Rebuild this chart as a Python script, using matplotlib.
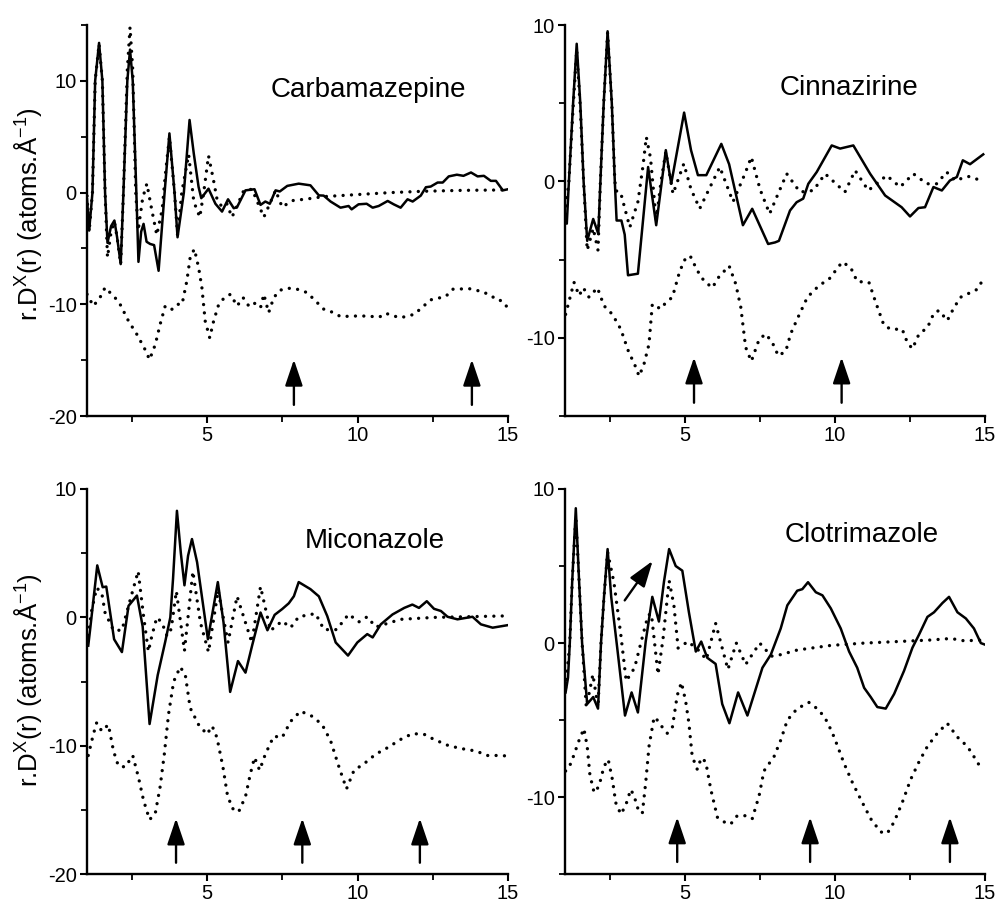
#!/usr/bin/env python3
import matplotlib
matplotlib.use("Agg")
import matplotlib.pyplot as plt
from matplotlib.ticker import MultipleLocator

plt.rcParams['font.family'] = ['Liberation Sans', 'DejaVu Sans']
plt.rcParams['mathtext.fontset'] = 'custom'
plt.rcParams['mathtext.rm'] = 'Liberation Sans'
plt.rcParams['axes.unicode_minus'] = False

# ---- Carbamazepine ----
carbTotR = [1.0, 1.07, 1.18, 1.27, 1.4, 1.51, 1.6, 1.68, 1.8, 1.91, 2.0, 2.12, 2.21, 2.34, 2.43, 2.52, 2.64, 2.71,
            2.8, 2.88, 2.98, 3.1, 3.23, 3.38, 3.58, 3.74, 3.91, 4.01, 4.22, 4.41, 4.55, 4.71, 4.8, 5.04, 5.27, 5.49,
            5.69, 5.88, 5.99, 6.27, 6.57, 6.77, 6.93, 7.08, 7.27, 7.41, 7.66, 8.04, 8.43, 8.71, 8.87, 9.1, 9.43,
            9.7, 9.8, 10.03, 10.3, 10.5, 10.7, 11.0, 11.2, 11.43, 11.66, 11.83, 12.1, 12.27, 12.43, 12.66, 12.83,
            13.03, 13.3, 13.52, 13.77, 13.99, 14.2, 14.43, 14.6, 14.83, 15.0]
carbTot = [-0.6, -3.4, 0.0, 10.0, 13.4, 10.0, 0.0, -4.5, -3.0, -2.5, -4.0, -6.4, 0.0, 10.0, 12.8, 10.0, 0.0, -6.2,
           -3.5, -2.8, -4.4, -4.6, -4.7, -7.0, 0.0, 5.3, 0.0, -4.0, 0.0, 6.5, 3.5, 0.5, -0.5, 0.35, -1.0, -1.7,
           -0.6, -1.4, -1.3, 0.2, 0.3, -1.1, -0.8, -1.0, 0.2, 0.1, 0.6, 0.8, 0.65, -0.25, -0.27, -0.8, -1.35,
           -1.2, -1.5, -1.05, -1.0, -1.35, -1.2, -0.75, -1.05, -1.35, -0.6, -0.8, -0.27, 0.48, 0.54, 0.9, 0.9,
           1.45, 1.6, 1.5, 1.8, 1.45, 1.5, 1.05, 1.05, 0.2, 0.3]
carbIntraR = [1.0, 1.07, 1.18, 1.27, 1.4, 1.51, 1.6, 1.68, 1.8, 1.91, 2.0, 2.12, 2.21, 2.34, 2.43, 2.52, 2.62, 2.7,
              2.85, 2.99, 3.15, 3.32, 3.5, 3.6, 3.74, 3.91, 4.01, 4.15, 4.38, 4.55, 4.75, 4.88, 5.04, 5.2, 5.33,
              5.5, 5.65, 5.82, 5.99, 6.21, 6.49, 6.88, 7.1, 7.27, 7.49, 7.82, 8.32, 8.87, 9.97, 11.1, 12.2, 13.5, 15.0]
carbIntra = [-0.3, -3.5, 0.0, 10.0, 13.3, 10.0, 0.0, -5.8, -3.5, -2.6, -4.0, -6.4, 0.0, 11.0, 14.8, 11.0, 0.0, -3.4,
             -0.5, 0.8, -1.5, -3.8, -1.5, 1.5, 5.0, 0.0, -3.8, 0.0, 3.4, -0.8, -2.2, 0.0, 3.3, 1.2, -0.7,
             -1.3, -1.0, -2.2, -1.2, 0.18, 0.3, -2.2, -0.87, 0.2, -1.3, -0.72, -0.57, -0.36, -0.18, 0.0, 0.12, 0.2, 0.24]
carbInterR = [1.0, 1.21, 1.43, 1.6, 1.71, 1.93, 2.1, 2.38, 2.66, 2.93, 3.08, 3.27, 3.43, 3.6, 3.82, 3.99, 4.16,
              4.32, 4.43, 4.57, 4.71, 4.82, 4.93, 5.08, 5.21, 5.38, 5.57, 5.77, 5.99, 6.19, 6.38, 6.54, 6.77, 6.88,
              7.04, 7.21, 7.41, 7.66, 7.99, 8.32, 8.6, 8.88, 9.21, 9.43, 9.88, 10.32, 10.72, 10.93, 11.21, 11.43,
              11.88, 12.05, 12.43, 12.93, 13.16, 13.71, 14.2, 14.43, 14.7, 14.88, 15.0]
carbInter = [-9.1, -10.15, -9.4, -8.5, -8.8, -9.4, -10.0, -11.5, -12.7, -14.05, -14.95, -13.6, -11.8, -10.15,
             -10.45, -10.0, -10.0, -7.9, -5.8, -5.05, -6.7, -8.5, -11.5, -13.0, -11.5, -10.0, -9.4, -9.1, -10.15,
             -9.4, -10.15, -9.85, -10.3, -9.1, -10.75, -9.4, -8.75, -8.55, -8.65, -8.95, -9.7, -10.45, -10.75,
             -11.1, -11.05, -11.05, -11.15, -10.8, -11.05, -11.2, -10.9, -10.5, -9.6, -9.3, -8.65, -8.6, -8.9,
             -9.3, -9.5, -10.1, -10.2]
carbArrows = [7.88, 13.8]

# ---- Cinnazirine ----
cinnTotR = [1.0, 1.06, 1.13, 1.27, 1.39, 1.51, 1.62, 1.74, 1.94, 2.11, 2.18, 2.29, 2.42, 2.56, 2.66, 2.72, 2.88,
            2.99, 3.1, 3.43, 3.6, 3.77, 4.04, 4.36, 4.54, 4.97, 5.2, 5.43, 5.71, 6.21, 6.47, 6.93, 7.24, 7.77, 8.0,
            8.13, 8.5, 8.72, 8.94, 9.11, 9.39, 9.89, 10.17, 10.61, 11.17, 11.67, 12.22, 12.5, 12.78, 13.0, 13.28,
            13.56, 13.83, 14.06, 14.26, 14.5, 14.94]
cinnTot = [-2.1, -2.7, 0.0, 5.0, 8.8, 5.0, 0.0, -3.8, -2.4, -3.35, 0.0, 5.0, 9.6, 5.0, 0.0, -2.5, -2.5,
           -3.4, -6.0, -5.9, -2.5, 0.92, -2.8, 2.0, -0.15, 4.4, 2.0, 0.4, 0.4, 2.4, 1.1, -2.8, -1.75, -4.0, -3.9,
           -3.8, -1.86, -1.33, -1.1, -0.15, 0.6, 2.3, 2.1, 2.3, 0.49, -0.9, -1.65, -2.24, -1.7, -1.65, -0.36,
           -0.58, 0.06, 0.28, 1.35, 1.1, 1.73]
cinnIntraR = [1.0, 1.13, 1.27, 1.39, 1.51, 1.62, 1.74, 1.94, 2.1, 2.18, 2.29, 2.42, 2.56, 2.66, 2.74, 2.88, 3.16,
              3.43, 3.6, 3.71, 3.85, 4.04, 4.2, 4.36, 4.6, 4.96, 5.2, 5.49, 5.8, 6.16, 6.6, 7.0, 7.21, 7.5, 7.82,
              8.1, 8.39, 8.83, 9.28, 9.67, 10.33, 10.67, 11.11, 11.72, 12.17, 12.61, 13.06, 13.39, 13.72, 14.0,
              14.44, 14.94]
cinnIntra = [-2.1, 0.0, 4.7, 8.4, 4.7, 0.0, -4.4, -3.0, -4.4, 0.0, 5.0, 9.5, 5.0, 0.0, -0.8, -0.9, -2.93,
             -1.3, 1.0, 2.84, 1.5, -2.5, 0.0, 1.9, -0.8, 1.13, -0.5, -1.74, -0.5, 0.92, -1.3, 0.5, 1.56, -0.5, -2.07,
             -0.8, 0.49, -0.68, -0.58, 0.49, -0.68, 0.7, -0.58, 0.38, -0.36, 0.49, -0.15, -0.15, 0.6, 0.06,
             0.32, 0.02]
cinnInterR = [1.02, 1.13, 1.3, 1.47, 1.61, 1.8, 2.08, 2.3, 2.58, 2.86, 3.13, 3.3, 3.47, 3.63, 3.8, 3.91, 4.19,
              4.36, 4.58, 4.8, 4.97, 5.17, 5.41, 5.63, 5.91, 6.13, 6.47, 6.69, 6.86, 7.02, 7.21, 7.47, 7.69, 7.91,
              8.11, 8.36, 8.52, 8.74, 9.08, 9.47, 9.8, 10.24, 10.52, 10.74, 11.13, 11.36, 11.63, 11.86, 12.24,
              12.41, 12.58, 12.8, 13.08, 13.3, 13.47, 13.74, 13.97, 14.19, 14.41, 14.74, 14.91]
cinnInter = [-8.5, -7.7, -6.45, -7.3, -6.8, -7.4, -6.8, -7.95, -8.5, -9.45, -10.95, -11.6, -12.45, -11.7, -10.4,
             -7.85, -8.15, -7.75, -7.4, -5.9, -5.05, -4.75, -5.7, -6.35, -6.8, -6.1, -5.4, -6.55, -8.05, -10.6,
             -11.5, -10.1, -9.75, -10.3, -11.15, -10.85, -9.75, -8.8, -7.4, -6.65, -6.25, -5.15, -5.5, -6.4,
             -6.45, -7.75, -9.2, -9.45, -9.45, -10.3, -10.7, -9.75, -9.35, -8.4, -8.25, -8.9, -8.05, -7.4, -7.2,
             -6.9, -6.35]
cinnArrows = [5.3, 10.22]

# ---- Miconazole ----
micoTotR = [1.04, 1.1, 1.34, 1.52, 1.64, 1.9, 2.16, 2.38, 2.66, 2.85, 3.08, 3.35, 3.6, 3.77, 3.86, 3.99, 4.12,
            4.24, 4.36, 4.49, 4.66, 5.02, 5.35, 5.54, 5.76, 6.02, 6.27, 6.49, 6.77, 7.0, 7.24, 7.49, 7.71, 7.88,
            8.04, 8.43, 8.71, 8.99, 9.27, 9.68, 9.99, 10.32, 10.5, 10.77, 11.16, 11.55, 11.82, 12.04, 12.3,
            12.54, 12.77, 12.99, 13.32, 13.82, 14.1, 14.49, 15.0]
micoTot = [-2.2, -1.0, 4.05, 2.35, 2.4, -1.7, -2.7, 0.9, 1.7, -0.7, -8.3, -4.5, -1.9, 0.0, 3.0, 8.3, 5.0,
           2.5, 4.8, 6.1, 4.3, -1.7, 2.75, -0.4, -5.8, -3.4, -4.3, -2.2, 0.38, -1.0, 0.2, 0.65, 1.1, 1.65,
           2.75, 2.2, 1.64, 0.1, -1.95, -2.97, -1.95, -1.3, -1.56, -0.54, 0.23, 0.74, 1.0, 0.74, 1.26,
           0.67, 0.5, 0.05, -0.15, 0.05, -0.54, -0.8, -0.6]
micoIntraR = [1.04, 1.15, 1.32, 1.49, 1.6, 1.88, 2.16, 2.38, 2.7, 2.88, 3.04, 3.16, 3.32, 3.49, 3.66, 3.8, 3.97,
              4.24, 4.52, 4.77, 5.04, 5.36, 5.69, 5.99, 6.48, 6.77, 7.1, 7.49, 7.77, 8.04, 8.6, 8.88, 9.3, 9.7,
              10.04, 10.32, 10.6, 11.43, 12.54, 15.0]
micoIntra = [-1.4, 0.5, 2.3, 1.9, 0.36, -1.0, -1.0, 0.9, 3.6, 0.1, -2.65, -1.4, 0.0, -0.4, -1.45, -0.9, 2.05,
             -2.6, 3.58, -0.4, -2.7, 2.1, -1.95, 1.65, -1.95, 2.4, -1.03, -0.28, -0.8, 0.05, 0.3, -0.95, -0.95, 0.25,
             -0.35, 0.05, -0.75, -0.15, 0.0, 0.12]
micoInterR = [1.04, 1.21, 1.32, 1.49, 1.71, 1.88, 2.04, 2.27, 2.52, 2.71, 2.88, 3.08, 3.27, 3.43, 3.57, 3.71,
              3.88, 4.1, 4.27, 4.43, 4.71, 4.99, 5.16, 5.32, 5.52, 5.66, 5.82, 6.04, 6.27, 6.43, 6.57, 6.74, 6.93,
              7.21, 7.49, 7.77, 8.1, 8.49, 8.82, 9.1, 9.38, 9.63, 9.88, 10.21, 10.6, 10.99, 11.43, 11.82, 12.21,
              12.54, 13.04, 13.54, 13.93, 14.32, 14.77, 15.0]
micoInter = [-10.75, -9.1, -8.2, -8.85, -8.35, -10.4, -11.55, -11.65, -10.75, -12.45, -14.25, -15.75, -15.25,
             -13.2, -10.65, -7.55, -5.0, -3.85, -4.5, -7.05, -8.35, -9.1, -8.45, -9.35, -11.65, -13.7, -14.85,
             -15.15, -13.95, -12.2, -10.9, -11.9, -10.65, -9.25, -9.35, -8.1, -7.3, -7.7, -8.35, -9.6, -11.65,
             -13.35, -11.9, -11.4, -10.65, -10.15, -9.5, -9.05, -9.1, -9.5, -10.0, -10.25, -10.4, -10.75,
             -10.75, -10.8]
micoArrows = [3.96, 8.16, 12.07]

# ---- Clotrimazole ----
clotTotR = [1.02, 1.1, 1.16, 1.24, 1.36, 1.47, 1.57, 1.74, 1.94, 2.1, 2.2, 2.3, 2.42, 2.54, 2.74, 3.0, 3.22,
            3.43, 3.69, 3.91, 4.13, 4.3, 4.47, 4.69, 4.91, 5.13, 5.36, 5.54, 5.74, 6.02, 6.24, 6.48, 6.77, 7.08,
            7.58, 7.86, 8.19, 8.41, 8.74, 8.91, 9.1, 9.36, 9.58, 9.86, 10.19, 10.47, 10.74, 10.97, 11.19,
            11.41, 11.69, 11.97, 12.3, 12.58, 12.8, 13.08, 13.3, 13.58, 13.8, 14.08, 14.36, 14.63, 14.86, 15.0]
clotTot = [-3.2, -2.25, 0.0, 4.0, 8.75, 4.0, 0.0, -3.95, -3.5, -4.25, 0.0, 3.0, 6.1, 3.0, -0.3, -4.7, -3.2,
           -4.5, 0.1, 3.0, 1.4, 4.0, 6.1, 5.0, 4.7, 2.0, -0.55, 0.1, -0.95, -1.35, -3.95, -5.2, -3.2, -4.7,
           -1.6, -0.75, 0.95, 2.45, 3.4, 3.5, 3.95, 3.3, 3.1, 2.25, 0.95, -0.55, -1.6, -2.9, -3.5,
           -4.15, -4.25, -3.3, -1.8, -0.3, 0.55, 1.7, 2.0, 2.6, 3.0, 2.0, 1.6, 0.95, 0.0, -0.1]
clotIntraR = [1.02, 1.16, 1.24, 1.36, 1.47, 1.57, 1.71, 1.93, 2.1, 2.2, 2.3, 2.42, 2.63, 2.86, 3.04, 3.32, 3.54,
              3.77, 3.88, 4.1, 4.27, 4.47, 4.63, 4.77, 5.1, 5.49, 5.71, 6.02, 6.43, 6.71, 7.02, 7.49, 7.88, 8.19,
              8.74, 9.3, 9.86, 10.97, 12.08, 13.19, 13.86, 14.3, 15.0]
clotIntra = [-2.9, 0.0, 4.0, 8.2, 4.0, 0.0, -4.17, -2.03, -4.17, 0.0, 3.0, 5.9, 3.95, 0.55, -2.46, -1.6, 0.1,
             1.81, 1.9, -2.03, 0.32, 4.06, 2.45, -0.32, 0.1, -0.53, -1.07, 1.28, -1.71, 0.0, -1.39, 0.0, -0.85,
             -0.75, -0.45, -0.3, -0.15, 0.0, 0.1, 0.2, 0.3, 0.15, 0.2]
clotInterR = [1.02, 1.13, 1.28, 1.47, 1.63, 1.74, 1.83, 1.97, 2.13, 2.3, 2.44, 2.58, 2.69, 2.86, 3.02, 3.19, 3.3,
              3.47, 3.58, 3.69, 3.8, 3.97, 4.13, 4.24, 4.41, 4.58, 4.74, 4.88, 5.02, 5.13, 5.24, 5.41, 5.54, 5.69,
              5.86, 6.08, 6.3, 6.52, 6.74, 7.02, 7.24, 7.47, 7.63, 7.97, 8.19, 8.41, 8.74, 9.13, 9.47, 9.74, 9.97,
              10.3, 10.58, 10.86, 11.19, 11.52, 11.74, 11.97, 12.24, 12.52, 12.8, 13.08, 13.41, 13.74, 14.08,
              14.41, 14.74, 14.91]
clotInter = [-8.3, -8.1, -7.35, -6.3, -5.55, -6.7, -8.55, -9.7, -9.3, -8.0, -7.55, -8.85, -10.35, -11.1, -10.55,
             -9.5, -9.9, -11.0, -11.0, -9.05, -6.7, -4.8, -5.1, -5.45, -5.85, -5.45, -3.4, -2.55, -3.75, -5.2,
             -7.35, -8.2, -7.45, -7.7, -9.5, -11.3, -11.6, -11.75, -11.2, -11.2, -11.4, -9.9, -8.3, -7.35, -6.3,
             -5.0, -4.25, -3.85, -4.35, -5.1, -6.1, -7.8, -9.05, -10.15, -11.4, -12.25, -12.35, -11.6, -10.35,
             -8.85, -7.7, -6.7, -5.85, -5.2, -6.1, -6.7, -7.7, -8.3]
clotArrows = [4.74, 9.17, 13.83]

yLabel = r'r.D$^{\mathrm{X}}$(r) (atoms.Å$^{\mathrm{-1}}$)'

fig = plt.figure(figsize=(9.97, 9.06), dpi=100)

panels = [
    # name, axes rect, ylim, label pos, data, arrows (x list, base, tip)
    ("Carbamazepine", [0.0873, 0.5408, 0.4222, 0.4316], (-20, 15), (10.37, 9.2),
     (carbTotR, carbTot, carbIntraR, carbIntra, carbInterR, carbInter), (carbArrows, -19.0, -14.95)),
    ("Cinnazirine", [0.5667, 0.5408, 0.4213, 0.4316], (-15, 10), (10.45, 6.0),
     (cinnTotR, cinnTot, cinnIntraR, cinnIntra, cinnInterR, cinnInter), (cinnArrows, -14.15, -11.25)),
    ("Miconazole", [0.0873, 0.0350, 0.4222, 0.4253], (-20, 10), (10.57, 5.95),
     (micoTotR, micoTot, micoIntraR, micoIntra, micoInterR, micoInter), (micoArrows, -19.1, -15.65)),
    ("Clotrimazole", [0.5667, 0.0350, 0.4213, 0.4253], (-15, 10), (10.9, 7.0),
     (clotTotR, clotTot, clotIntraR, clotIntra, clotInterR, clotInter), (clotArrows, -14.2, -11.3)),
]

arrowStyle = dict(arrowstyle='-|>,head_length=0.8,head_width=0.27', mutation_scale=20,
                  lw=1.7, color='black', shrinkA=0, shrinkB=0)
dotStyle = dict(color='black', lw=2.4, linestyle=(0, (0.01, 2.5)), dash_capstyle='round')

axesList = []
for name, rect, ylim, labelPos, data, arrows in panels:
    ax = fig.add_axes(rect)
    totR, tot, intraR, intra, interR, inter = data
    ax.plot(totR, tot, color='black', lw=1.8, solid_joinstyle='round')
    ax.plot(intraR, intra, **dotStyle)
    ax.plot(interR, inter, **dotStyle)

    xs, base, tip = arrows
    for xa in xs:
        ax.annotate('', xy=(xa, tip), xytext=(xa, base), arrowprops=arrowStyle)

    ax.text(labelPos[0], labelPos[1], name, fontsize=20, ha='center', va='center')

    ax.set_xlim(1, 15)
    ax.set_ylim(*ylim)
    ax.xaxis.set_major_locator(MultipleLocator(5))
    ax.xaxis.set_minor_locator(MultipleLocator(2.5))
    ax.yaxis.set_major_locator(MultipleLocator(10))
    ax.yaxis.set_minor_locator(MultipleLocator(5))
    for side in ['top', 'right']:
        ax.spines[side].set_visible(False)
    for side in ['left', 'bottom']:
        ax.spines[side].set_linewidth(1.7)
    ax.tick_params(which='major', direction='out', length=5, width=1.5, labelsize=14.5)
    ax.tick_params(axis='x', which='major', pad=2)
    ax.tick_params(axis='y', which='major', pad=2.5)
    ax.tick_params(which='minor', direction='out', length=4, width=1.3)
    ax.patch.set_alpha(0)
    axesList.append(ax)

# extra diagonal arrow in the Clotrimazole panel
axesList[3].annotate('', xy=(3.92, 5.33), xytext=(2.99, 2.77), arrowprops=arrowStyle)

fig.text(29 / 997, 0.764, yLabel, rotation=90, ha='center', va='center', fontsize=18.5)
fig.text(29 / 997, 0.2495, yLabel, rotation=90, ha='center', va='center', fontsize=18.5)

fig.savefig('out.png', dpi=100)
